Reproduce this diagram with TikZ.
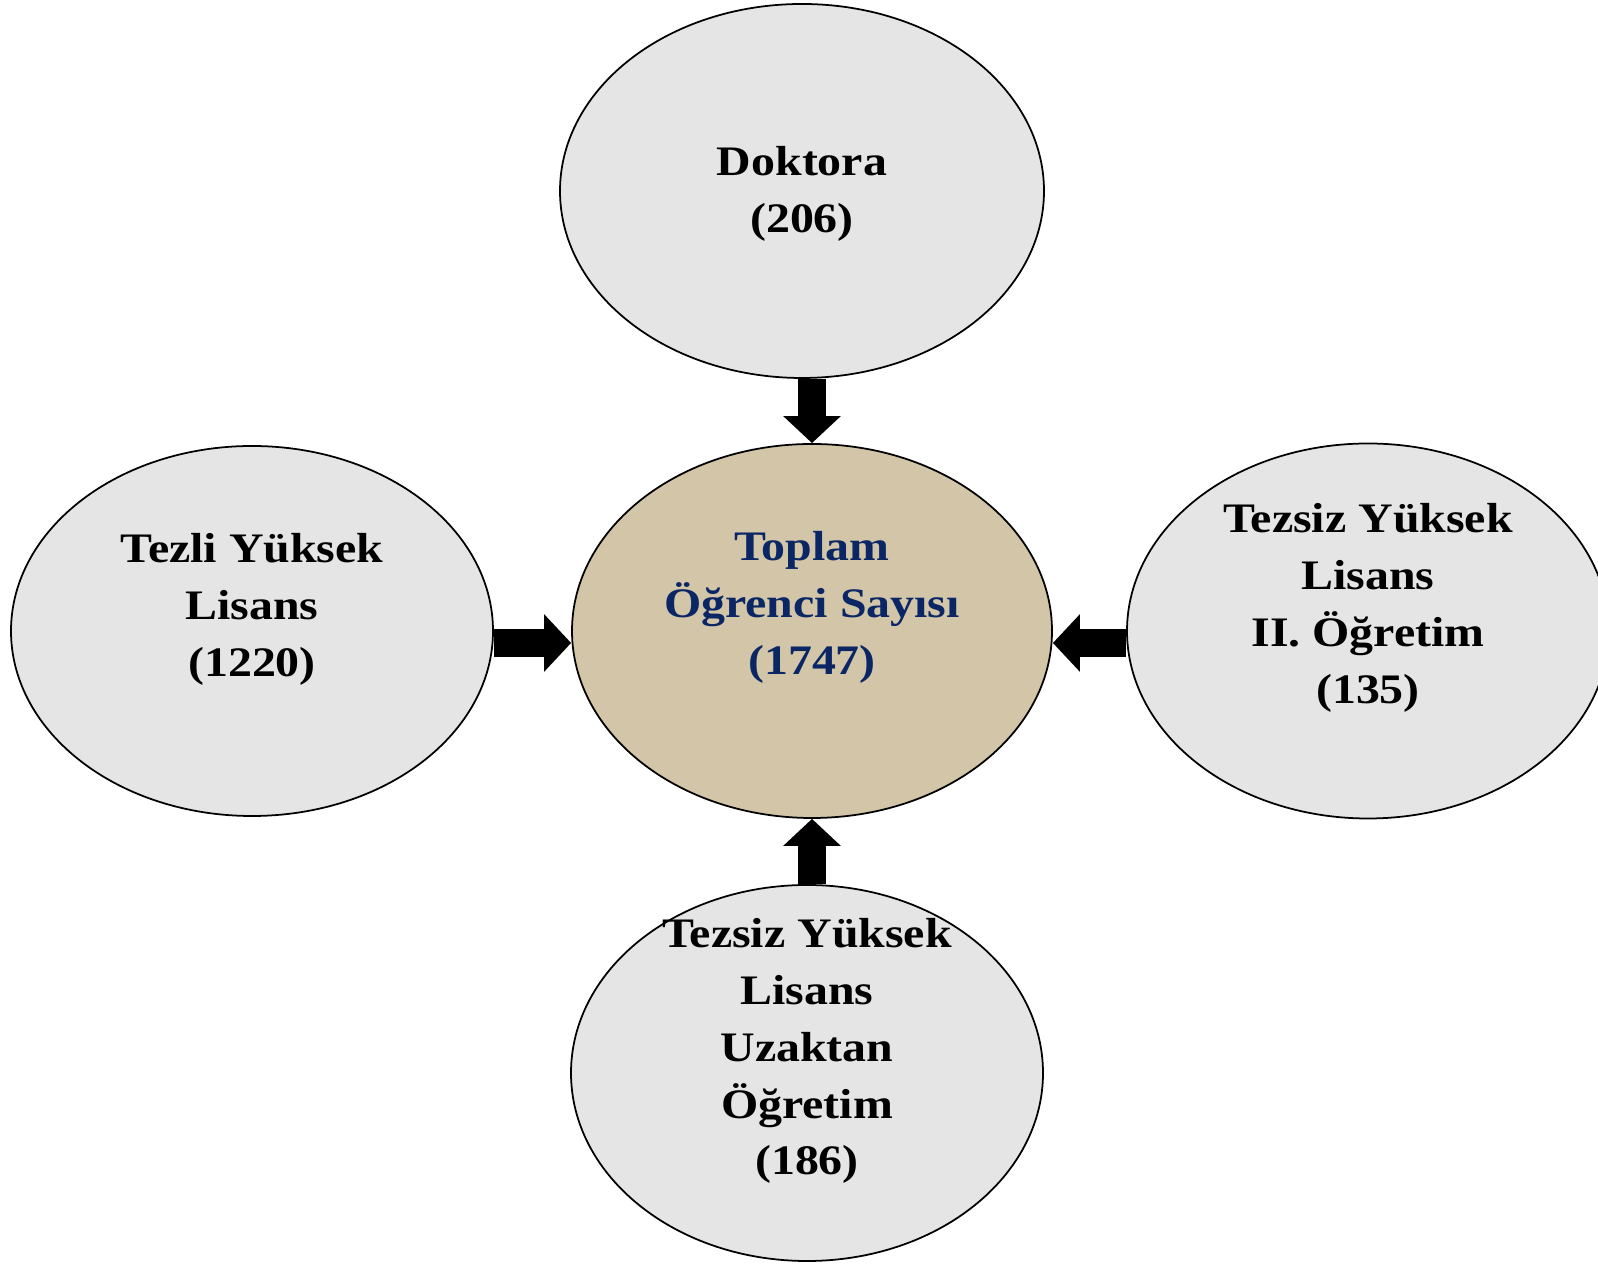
\documentclass[tikz,border=0pt]{standalone}
\usepackage{fontspec}
\setmainfont{Liberation Serif}
\usepackage{tikz}
\usetikzlibrary{positioning,shapes.geometric,arrows.meta}
\definecolor{gri}{RGB}{229,229,229}
\definecolor{keten}{RGB}{210,197,168}
\definecolor{lacivert}{RGB}{10,38,100}

\begin{document}
\begin{tikzpicture}[
        daire/.style={ellipse, draw=black, line width=1pt, fill=gri, inner sep=0pt},
        yazi/.style={align=center, xscale=1.14, font=\bfseries\fontsize{23.9}{32.4}\selectfont},
        ok/.style={line width=0.56cm, -{Triangle[width=1.12cm, length=0.54cm]}}
    ]
        \useasboundingbox (0, 0) rectangle (31.96, 25.32);

        \node[daire, minimum width=9.68cm, minimum height=7.48cm] (dok) at (16.04, 21.50) {};
        \node[daire, fill=keten, minimum width=9.60cm, minimum height=7.48cm] (top) at (16.24, 12.70) {};
        \node[daire, minimum width=9.64cm, minimum height=7.40cm] (tezli) at (5.04, 12.70) {};
        \node[daire, minimum width=9.64cm, minimum height=7.50cm] (tezsiz) at (27.36, 12.70) {};
        \node[daire, minimum width=9.44cm, minimum height=7.52cm] (uzak) at (16.14, 3.86) {};

        % Yazilar
        \node[yazi] (dokYazi) at ([yshift=-0.05cm]dok.center) {Doktora\\(206)};
        \node[yazi, text=lacivert] (topYazi) at ([yshift=0.48cm]top.center) {Toplam\\Öğrenci Sayısı\\(1747)};
        \node[yazi] (tezliYazi) at ([yshift=0.44cm]tezli.center) {Tezli Yüksek\\Lisans\\(1220)};
        \node[yazi] (tezsizYazi) at ([yshift=0.46cm]tezsiz.center) {Tezsiz Yüksek\\Lisans\\II. Öğretim\\(135)};
        \node[yazi] (uzakYazi) at ([yshift=0.44cm]uzak.center) {Tezsiz Yüksek\\Lisans\\Uzaktan\\Öğretim\\(186)};

        % Oklar verso Toplam
        \draw[ok] (dok.south -| top.north) -- (top.north);
        \draw[ok] ([yshift=-0.24cm]tezli.east) -- ([yshift=-0.24cm]top.west);
        \draw[ok] ([yshift=-0.24cm]tezsiz.west) -- ([yshift=-0.24cm]top.east);
        \draw[ok] (uzak.north -| top.south) -- (top.south);
    \end{tikzpicture}
\end{document}
